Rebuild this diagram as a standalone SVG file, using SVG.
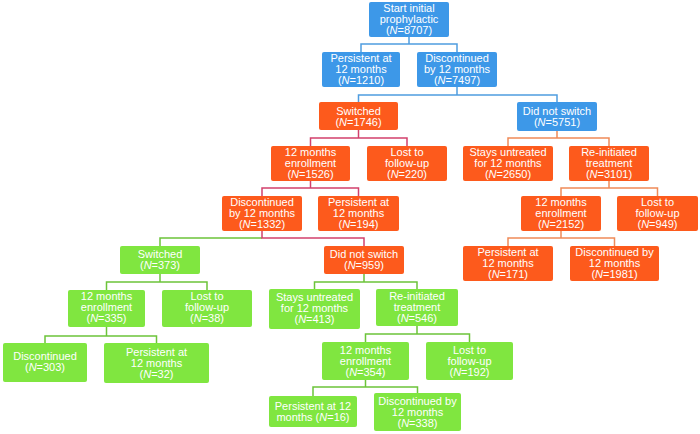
<svg xmlns="http://www.w3.org/2000/svg" width="700" height="434" viewBox="0 0 700 434">
<style>
.b{fill:#3d98e8}
.o{fill:#fd5a1c}
.g{fill:#80e640}
text{font-family:"Liberation Sans",Arial,sans-serif;font-size:11px;fill:#fff;text-anchor:middle}
.i{font-style:italic}
.c{fill:none;stroke-width:1.5}
.cb{stroke:#4f9de0}
.cp{stroke:#d2406c}
.cg{stroke:#6cc43a}
.co{stroke:#ef8a58}
</style>
<rect width="700" height="434" fill="#fff"/>
<g id="connectors">
<path class="c cb" d="M409 37V44M361 52V44H457V52"/>
<path class="c cb" d="M457 87V95M358.5 102V95H557V102"/>
<path class="c cp" d="M358.5 130V138M310.5 146V138H407V146"/>
<path class="c co" d="M557 131V138M508 146V138H609V146"/>
<path class="c cp" d="M310.5 181V188M262 196V188H358.5V196"/>
<path class="c co" d="M609 181V188M561 196V188H657.5V196"/>
<path class="c cg" d="M262 238H160V246"/>
<path class="c cp" d="M262 231V238H364V246"/>
<path class="c co" d="M561 231V238M508 246V238H614.5V246"/>
<path class="c cg" d="M160 274V282M106.5 290V282H207V290"/>
<path class="c cg" d="M364 274V282M314.5 289V282H417V289"/>
<path class="c cg" d="M106.5 327V336M45 343V336H156.5V343"/>
<path class="c cg" d="M417 326V334M365.5 342V334H469.5V342"/>
<path class="c cg" d="M365.5 380V387M313 396V387H417.5V393"/>
</g>
<g id="n1"><rect class="b" x="369" y="2" width="80" height="35" rx="2"/><text x="409" y="12">Start initial</text><text x="409" y="23">prophylactic</text><text x="409" y="34">(<tspan class="i">N</tspan>=8707)</text></g>
<g id="n2"><rect class="b" x="322" y="52" width="78" height="35" rx="2"/><text x="361" y="62">Persistent at</text><text x="361" y="73">12 months</text><text x="361" y="84">(<tspan class="i">N</tspan>=1210)</text></g>
<g id="n3"><rect class="b" x="417" y="52" width="80" height="35" rx="2"/><text x="457" y="62">Discontinued</text><text x="457" y="73">by 12 months</text><text x="457" y="84">(<tspan class="i">N</tspan>=7497)</text></g>
<g id="n4"><rect class="o" x="319" y="102" width="79" height="28" rx="2"/><text x="358.5" y="115">Switched</text><text x="358.5" y="126">(<tspan class="i">N</tspan>=1746)</text></g>
<g id="n5"><rect class="b" x="517" y="102" width="80" height="29" rx="2"/><text x="557" y="115">Did not switch</text><text x="557" y="126">(<tspan class="i">N</tspan>=5751)</text></g>
<g id="n6"><rect class="o" x="271" y="146" width="79" height="35" rx="2"/><text x="310.5" y="156">12 months</text><text x="310.5" y="167">enrollment</text><text x="310.5" y="178">(<tspan class="i">N</tspan>=1526)</text></g>
<g id="n7"><rect class="o" x="367" y="146" width="80" height="35" rx="2"/><text x="407" y="156">Lost to</text><text x="407" y="167">follow-up</text><text x="407" y="178">(<tspan class="i">N</tspan>=220)</text></g>
<g id="n8"><rect class="o" x="463" y="146" width="90" height="35" rx="2"/><text x="508" y="156">Stays untreated</text><text x="508" y="167">for 12 months</text><text x="508" y="178">(<tspan class="i">N</tspan>=2650)</text></g>
<g id="n9"><rect class="o" x="569" y="146" width="80" height="35" rx="2"/><text x="609" y="156">Re-initiated</text><text x="609" y="167">treatment</text><text x="609" y="178">(<tspan class="i">N</tspan>=3101)</text></g>
<g id="n10"><rect class="o" x="222" y="196" width="80" height="35" rx="2"/><text x="262" y="206">Discontinued</text><text x="262" y="217">by 12 months</text><text x="262" y="228">(<tspan class="i">N</tspan>=1332)</text></g>
<g id="n11"><rect class="o" x="318" y="196" width="81" height="35" rx="2"/><text x="358.5" y="206">Persistent at</text><text x="358.5" y="217">12 months</text><text x="358.5" y="228">(<tspan class="i">N</tspan>=194)</text></g>
<g id="n12"><rect class="o" x="521" y="196" width="80" height="35" rx="2"/><text x="561" y="206">12 months</text><text x="561" y="217">enrollment</text><text x="561" y="228">(<tspan class="i">N</tspan>=2152)</text></g>
<g id="n13"><rect class="o" x="617" y="196" width="81" height="35" rx="2"/><text x="657.5" y="206">Lost to</text><text x="657.5" y="217">follow-up</text><text x="657.5" y="228">(<tspan class="i">N</tspan>=949)</text></g>
<g id="n14"><rect class="o" x="463" y="246" width="90" height="35" rx="2"/><text x="508" y="256">Persistent at</text><text x="508" y="267">12 months</text><text x="508" y="278">(<tspan class="i">N</tspan>=171)</text></g>
<g id="n15"><rect class="o" x="570" y="246" width="89" height="35" rx="2"/><text x="614.5" y="256">Discontinued by</text><text x="614.5" y="267">12 months</text><text x="614.5" y="278">(<tspan class="i">N</tspan>=1981)</text></g>
<g id="n16"><rect class="g" x="120" y="246" width="80" height="28" rx="2"/><text x="160" y="258">Switched</text><text x="160" y="269">(<tspan class="i">N</tspan>=373)</text></g>
<g id="n17"><rect class="o" x="324" y="246" width="80" height="28" rx="2"/><text x="364" y="258">Did not switch</text><text x="364" y="269">(<tspan class="i">N</tspan>=959)</text></g>
<g id="n18"><rect class="g" x="68" y="290" width="77" height="37" rx="2"/><text x="106.5" y="300">12 months</text><text x="106.5" y="311">enrollment</text><text x="106.5" y="322">(<tspan class="i">N</tspan>=335)</text></g>
<g id="n19"><rect class="g" x="162" y="290" width="90" height="37" rx="2"/><text x="207" y="300">Lost to</text><text x="207" y="311">follow-up</text><text x="207" y="322">(<tspan class="i">N</tspan>=38)</text></g>
<g id="n20"><rect class="g" x="269" y="289" width="91" height="40" rx="2"/><text x="314.5" y="301">Stays untreated</text><text x="314.5" y="312">for 12 months</text><text x="314.5" y="323">(<tspan class="i">N</tspan>=413)</text></g>
<g id="n21"><rect class="g" x="376" y="289" width="82" height="37" rx="2"/><text x="417" y="300">Re-initiated</text><text x="417" y="311">treatment</text><text x="417" y="322">(<tspan class="i">N</tspan>=546)</text></g>
<g id="n22"><rect class="g" x="3" y="343" width="84" height="39" rx="2"/><text x="45" y="360">Discontinued</text><text x="45" y="371">(<tspan class="i">N</tspan>=303)</text></g>
<g id="n23"><rect class="g" x="104" y="343" width="105" height="40" rx="2"/><text x="156.5" y="356">Persistent at</text><text x="156.5" y="367">12 months</text><text x="156.5" y="378">(<tspan class="i">N</tspan>=32)</text></g>
<g id="n24"><rect class="g" x="322" y="342" width="87" height="38" rx="2"/><text x="365.5" y="354">12 months</text><text x="365.5" y="365">enrollment</text><text x="365.5" y="376">(<tspan class="i">N</tspan>=354)</text></g>
<g id="n25"><rect class="g" x="426" y="342" width="87" height="38" rx="2"/><text x="469.5" y="354">Lost to</text><text x="469.5" y="365">follow-up</text><text x="469.5" y="376">(<tspan class="i">N</tspan>=192)</text></g>
<g id="n26"><rect class="g" x="269" y="396" width="88" height="31" rx="2"/><text x="313" y="410">Persistent at 12</text><text x="313" y="421">months (<tspan class="i">N</tspan>=16)</text></g>
<g id="n27"><rect class="g" x="374" y="393" width="87" height="38" rx="2"/><text x="417.5" y="405">Discontinued by</text><text x="417.5" y="416">12 months</text><text x="417.5" y="427">(<tspan class="i">N</tspan>=338)</text></g>
</svg>
